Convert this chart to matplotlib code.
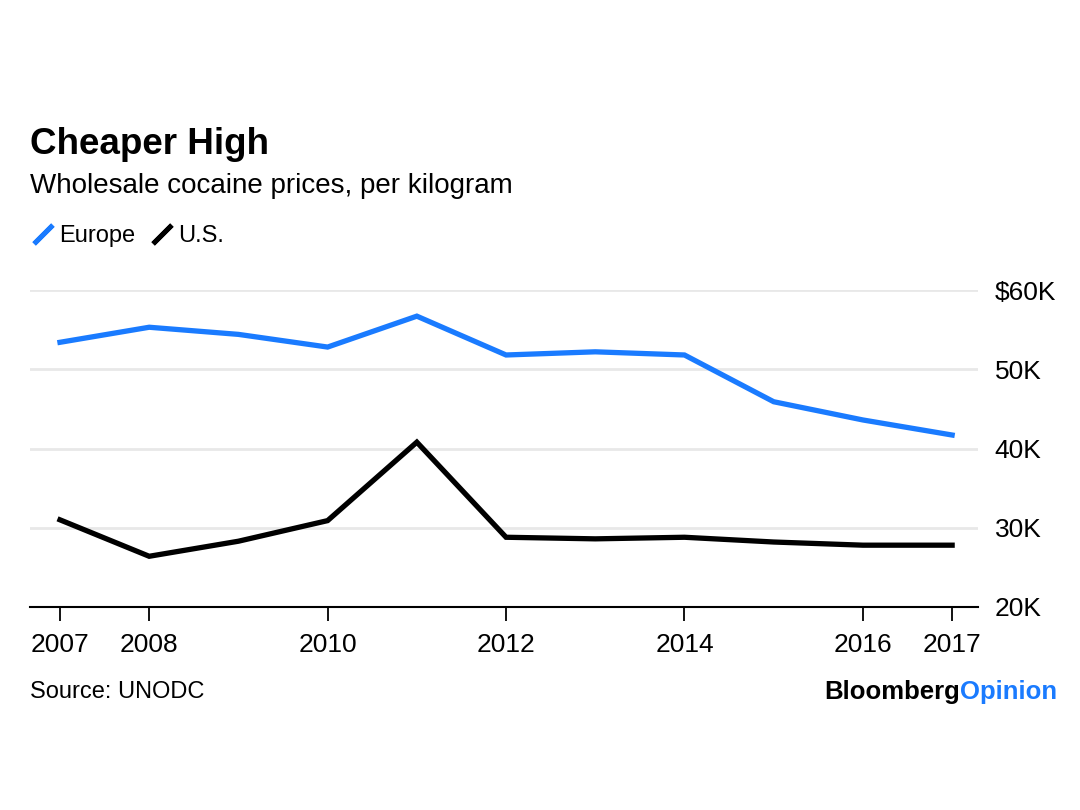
import matplotlib
matplotlib.use("Agg")
import matplotlib.pyplot as plt
from matplotlib.lines import Line2D

plt.rcParams['font.family'] = ['Liberation Sans', 'DejaVu Sans']

# data (USD per kg)
years = [2007, 2008, 2009, 2010, 2011, 2012, 2013, 2014, 2015, 2016, 2017]
europe = [53400, 55300, 54400, 52800, 56700, 51800, 52200, 51800, 45900, 43600, 41700]
us = [31000, 26400, 28300, 30900, 40800, 28800, 28600, 28800, 28200, 27800, 27800]
xticks = [2007, 2008, 2010, 2012, 2014, 2016, 2017]
yticks = [20000, 30000, 40000, 50000, 60000]
ylabels = ['20K', '30K', '40K', '50K', '$60K']

blue = '#1a7bff'

fig = plt.figure(figsize=(10.8, 8.1), dpi=100)
ax = fig.add_axes([30/1080, 1-607/810, 948/1080, 317/810])

ax.plot(years, europe, color=blue, lw=3.8, solid_joinstyle='miter', clip_on=False)
ax.plot(years, us, color='black', lw=3.8, solid_joinstyle='miter', clip_on=False)

ax.set_xlim(2006.664, 2017.29)
ax.set_ylim(20000, 60000)

ax.set_xticks(xticks)
ax.set_xticklabels([str(x) for x in xticks])
ax.set_yticks(yticks)
ax.set_yticklabels(ylabels)
ax.yaxis.tick_right()
ax.tick_params(axis='y', length=0, pad=12, labelsize=19)
ax.tick_params(axis='x', length=10, width=1.3, direction='out', pad=9, labelsize=19)
for lab in ax.get_yticklabels():
    lab.set_horizontalalignment('left')

ax.grid(axis='y', color='#e8e8e8', lw=2)
ax.set_axisbelow(True)
for s in ['top', 'right', 'left']:
    ax.spines[s].set_visible(False)
ax.spines['bottom'].set_linewidth(1.5)
ax.spines['bottom'].set_zorder(5)

# titles
fig.text(30/1080, 1-145/810, 'Cheaper High', fontsize=26.5, fontweight='bold', va='center', ha='left')
fig.text(30/1080, 1-186/810, 'Wholesale cocaine prices, per kilogram', fontsize=20, va='center', ha='left')

# legend with slash handles
handles = [Line2D([], [], ls='none', marker=(2, 2, -45), markersize=19, markeredgewidth=3.5, color=blue),
           Line2D([], [], ls='none', marker=(2, 2, -45), markersize=19, markeredgewidth=3.5, color='black')]
fig.legend(handles, ['Europe', 'U.S.'], loc='center left', bbox_to_anchor=(10/1080, 1-236/810),
           ncol=2, frameon=False, fontsize=17, handlelength=1.0, handletextpad=0.2, columnspacing=0.6)

# footer
fig.text(30/1080, 1-692/810, 'Source: UNODC', fontsize=17, va='center', ha='left')
op = fig.text(1057/1080, 1-692/810, 'Opinion', fontsize=18.5, fontweight='bold', color=blue, va='center', ha='right')
ax.annotate('Bloomberg', xy=(0, 0.5), xycoords=op, fontsize=18.5, fontweight='bold', color='black',
            va='center', ha='right', annotation_clip=False)

fig.savefig('out.png', dpi=100)
